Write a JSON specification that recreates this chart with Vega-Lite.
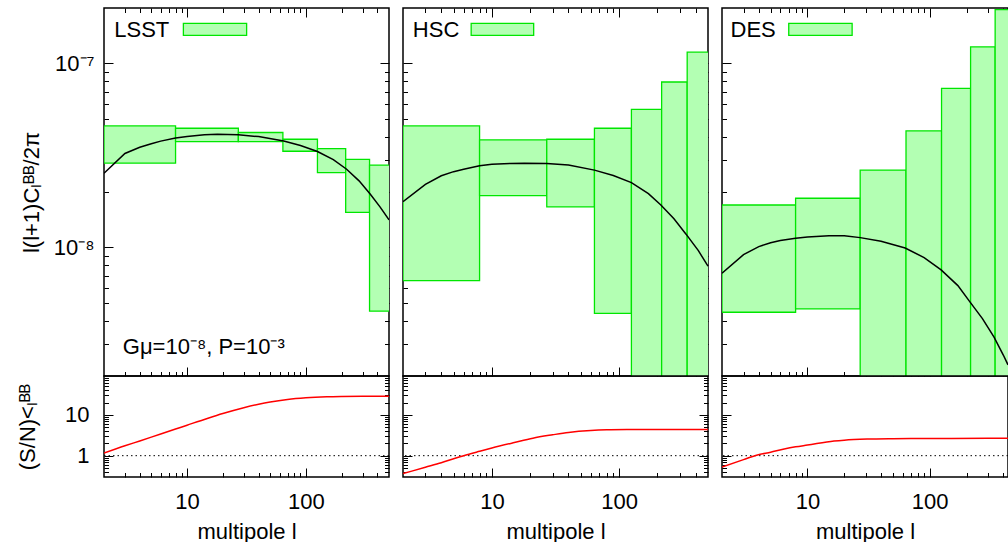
{
"$schema": "https://vega.github.io/schema/vega-lite/v6.json",
"padding": {"left": 15, "top": 6, "right": 0, "bottom": 0},
"datasets": {
"boxes": [
{"s":"LSST","l0":2,"l1":8,"lo":2.87e-8,"hi":4.57e-8},
{"s":"LSST","l0":8,"l1":27,"lo":3.76e-8,"hi":4.44e-8},
{"s":"LSST","l0":27,"l1":64,"lo":3.76e-8,"hi":4.21e-8},
{"s":"LSST","l0":64,"l1":125,"lo":3.33e-8,"hi":3.87e-8},
{"s":"LSST","l0":125,"l1":216,"lo":2.55e-8,"hi":3.44e-8},
{"s":"LSST","l0":216,"l1":343,"lo":1.55e-8,"hi":3.01e-8},
{"s":"LSST","l0":343,"l1":512,"lo":4.5e-9,"hi":2.8e-8},
{"s":"HSC","l0":2,"l1":8,"lo":6.6e-9,"hi":4.57e-8},
{"s":"HSC","l0":8,"l1":27,"lo":1.91e-8,"hi":3.84e-8},
{"s":"HSC","l0":27,"l1":64,"lo":1.66e-8,"hi":3.87e-8},
{"s":"HSC","l0":64,"l1":125,"lo":4.38e-9,"hi":4.44e-8},
{"s":"HSC","l0":125,"l1":216,"lo":1e-10,"hi":5.63e-8},
{"s":"HSC","l0":216,"l1":343,"lo":1e-10,"hi":7.92e-8},
{"s":"HSC","l0":343,"l1":512,"lo":1e-10,"hi":1.15e-7},
{"s":"DES","l0":2,"l1":8,"lo":4.44e-9,"hi":1.7e-8},
{"s":"DES","l0":8,"l1":27,"lo":4.63e-9,"hi":1.85e-8},
{"s":"DES","l0":27,"l1":64,"lo":1e-10,"hi":2.63e-8},
{"s":"DES","l0":64,"l1":125,"lo":1e-10,"hi":4.3e-8},
{"s":"DES","l0":125,"l1":216,"lo":1e-10,"hi":7.32e-8},
{"s":"DES","l0":216,"l1":343,"lo":1e-10,"hi":1.23e-7},
{"s":"DES","l0":343,"l1":512,"lo":1e-10,"hi":1.96e-7}
],
"curve": [
{"s":"LSST","l":2,"v":2.53e-8},{"s":"LSST","l":3,"v":3.24e-8},{"s":"LSST","l":4,"v":3.5e-8},{"s":"LSST","l":5,"v":3.66e-8},{"s":"LSST","l":6,"v":3.78e-8},{"s":"LSST","l":8,"v":3.93e-8},{"s":"LSST","l":10,"v":4.01e-8},{"s":"LSST","l":14,"v":4.09e-8},{"s":"LSST","l":18,"v":4.12e-8},{"s":"LSST","l":27,"v":4.09e-8},{"s":"LSST","l":40,"v":4.0e-8},{"s":"LSST","l":65,"v":3.79e-8},{"s":"LSST","l":90,"v":3.58e-8},{"s":"LSST","l":125,"v":3.32e-8},{"s":"LSST","l":170,"v":3.0e-8},{"s":"LSST","l":220,"v":2.66e-8},{"s":"LSST","l":280,"v":2.3e-8},{"s":"LSST","l":347,"v":1.95e-8},{"s":"LSST","l":420,"v":1.66e-8},{"s":"LSST","l":500,"v":1.41e-8},
{"s":"HSC","l":2,"v":1.77e-8},{"s":"HSC","l":3,"v":2.2e-8},{"s":"HSC","l":4,"v":2.45e-8},{"s":"HSC","l":5,"v":2.58e-8},{"s":"HSC","l":6,"v":2.66e-8},{"s":"HSC","l":8,"v":2.78e-8},{"s":"HSC","l":10,"v":2.83e-8},{"s":"HSC","l":14,"v":2.86e-8},{"s":"HSC","l":18,"v":2.87e-8},{"s":"HSC","l":27,"v":2.86e-8},{"s":"HSC","l":40,"v":2.8e-8},{"s":"HSC","l":64,"v":2.63e-8},{"s":"HSC","l":90,"v":2.46e-8},{"s":"HSC","l":125,"v":2.25e-8},{"s":"HSC","l":170,"v":1.96e-8},{"s":"HSC","l":213,"v":1.7e-8},{"s":"HSC","l":270,"v":1.43e-8},{"s":"HSC","l":336,"v":1.18e-8},{"s":"HSC","l":420,"v":9.6e-9},{"s":"HSC","l":500,"v":7.9e-9},
{"s":"DES","l":2,"v":7.23e-9},{"s":"DES","l":3,"v":9.13e-9},{"s":"DES","l":4,"v":1.01e-8},{"s":"DES","l":5,"v":1.06e-8},{"s":"DES","l":6,"v":1.09e-8},{"s":"DES","l":8,"v":1.12e-8},{"s":"DES","l":10,"v":1.14e-8},{"s":"DES","l":15,"v":1.157e-8},{"s":"DES","l":20,"v":1.155e-8},{"s":"DES","l":27,"v":1.13e-8},{"s":"DES","l":40,"v":1.08e-8},{"s":"DES","l":63,"v":9.92e-9},{"s":"DES","l":90,"v":8.8e-9},{"s":"DES","l":124,"v":7.54e-9},{"s":"DES","l":170,"v":6.2e-9},{"s":"DES","l":214,"v":5.04e-9},{"s":"DES","l":270,"v":4.1e-9},{"s":"DES","l":336,"v":3.25e-9},{"s":"DES","l":400,"v":2.6e-9},{"s":"DES","l":437,"v":2.3e-9}
],
"sn": [
{"s":"LSST","l":2,"r":1.16},{"s":"LSST","l":3,"r":1.75},{"s":"LSST","l":4,"r":2.3},{"s":"LSST","l":5,"r":2.85},{"s":"LSST","l":6,"r":3.4},{"s":"LSST","l":8,"r":4.5},{"s":"LSST","l":10,"r":5.6},{"s":"LSST","l":15,"r":8.3},{"s":"LSST","l":20,"r":10.8},{"s":"LSST","l":30,"r":15},{"s":"LSST","l":40,"r":18.3},{"s":"LSST","l":50,"r":20.8},{"s":"LSST","l":70,"r":24},{"s":"LSST","l":100,"r":26.3},{"s":"LSST","l":150,"r":27.8},{"s":"LSST","l":200,"r":28.3},{"s":"LSST","l":300,"r":28.6},{"s":"LSST","l":500,"r":28.7},
{"s":"HSC","l":2,"r":0.364},{"s":"HSC","l":3,"r":0.52},{"s":"HSC","l":4,"r":0.67},{"s":"HSC","l":5,"r":0.84},{"s":"HSC","l":6,"r":1.0},{"s":"HSC","l":8,"r":1.28},{"s":"HSC","l":10,"r":1.54},{"s":"HSC","l":15,"r":2.1},{"s":"HSC","l":21,"r":2.69},{"s":"HSC","l":30,"r":3.25},{"s":"HSC","l":40,"r":3.72},{"s":"HSC","l":60,"r":4.15},{"s":"HSC","l":80,"r":4.3},{"s":"HSC","l":126,"r":4.37},{"s":"HSC","l":200,"r":4.4},{"s":"HSC","l":500,"r":4.4},
{"s":"DES","l":2,"r":0.53},{"s":"DES","l":3,"r":0.8},{"s":"DES","l":3.9,"r":1.04},{"s":"DES","l":5,"r":1.22},{"s":"DES","l":6.45,"r":1.46},{"s":"DES","l":8,"r":1.65},{"s":"DES","l":10,"r":1.82},{"s":"DES","l":16.5,"r":2.28},{"s":"DES","l":20,"r":2.4},{"s":"DES","l":30.8,"r":2.55},{"s":"DES","l":50,"r":2.61},{"s":"DES","l":80,"r":2.63},{"s":"DES","l":150,"r":2.65},{"s":"DES","l":437,"r":2.66}
],
"leg": [
{"s":"LSST","name":"LSST","lx":2.44,"ly":1.39e-7,"a":9.31,"b":31.7,"c":1.42e-7,"d":1.648e-7},
{"s":"HSC","name":"HSC","lx":2.39,"ly":1.39e-7,"a":6.87,"b":21.3,"c":1.42e-7,"d":1.648e-7},
{"s":"DES","name":"DES","lx":2.35,"ly":1.39e-7,"a":7.03,"b":23.2,"c":1.42e-7,"d":1.648e-7}
],
"note": [{"t":"Gμ=10⁻⁸, P=10⁻³","l":2.88,"v":2.62e-9}],
"one": [{"r":1}]
},
"columns": 3,
"spacing": {"row": 0, "column": 14},
"bounds": "flush",
"align": "each",
"concat": [
{"width": 285, "height": 368,
 "layer": [
  {"data":{"name":"boxes"},"transform":[{"filter":"datum.s==='LSST'"}],
   "mark":{"type":"rect","fill":"#b3ffb3","stroke":"#00e600","strokeWidth":1.3,"clip":true},
   "encoding":{"x":{"field":"l0","type":"quantitative","scale":{"type":"log","domain":[2,500]},"axis":{"orient":"bottom","values":[10,100],"tickSize":-9,"labels":false,"title":null}},
    "x2":{"field":"l1"},
    "y":{"field":"lo","type":"quantitative","scale":{"type":"log","domain":[2e-9,2e-7]},"axis":{"orient":"left","values":[1e-8,1e-7],"tickSize":-9,"labelPadding":19,"labelExpr":"datum.value < 3e-8 ? '10⁻⁸' : '10⁻⁷'","title":"l(l+1)Cₗᴮᴮ/2π","titleX":-73,"titleBaseline":"middle","titleAngle":-90}},
    "y2":{"field":"hi"}}},
  {"data":{"name":"curve"},"transform":[{"filter":"datum.s==='LSST'"}],
   "mark":{"type":"line","color":"black","strokeWidth":1.5,"clip":true},
   "encoding":{"x":{"field":"l","type":"quantitative","scale":{"type":"log","domain":[2,500]},"axis":{"orient":"top","values":[10,100],"tickSize":-9,"labels":false,"title":null}},
    "y":{"field":"v","type":"quantitative","scale":{"type":"log","domain":[2e-9,2e-7]},"axis":{"orient":"right","values":[1e-8,1e-7],"tickSize":-9,"labels":false,"title":null}}}},
  {"data":{"name":"curve"},"transform":[{"filter":"datum.s==='LSST'"}],
   "mark":{"type":"line","opacity":0},
   "encoding":{"x":{"field":"l","type":"quantitative","scale":{"type":"log","domain":[2,500]},"axis":{"orient":"bottom","values":[3,4,5,6,7,8,9,20,30,40,50,60,70,80,90,200,300,400],"tickSize":-4.5,"labels":false,"title":null}},
    "y":{"field":"v","type":"quantitative","scale":{"type":"log","domain":[2e-9,2e-7]},"axis":{"orient":"left","values":[3e-9,4e-9,5e-9,6e-9,7e-9,8e-9,9e-9,2e-8,3e-8,4e-8,5e-8,6e-8,7e-8,8e-8,9e-8],"tickSize":-4.5,"labels":false,"title":null}}}},
  {"data":{"name":"curve"},"transform":[{"filter":"datum.s==='LSST'"}],
   "mark":{"type":"line","opacity":0},
   "encoding":{"x":{"field":"l","type":"quantitative","scale":{"type":"log","domain":[2,500]},"axis":{"orient":"top","values":[3,4,5,6,7,8,9,20,30,40,50,60,70,80,90,200,300,400],"tickSize":-4.5,"labels":false,"title":null}},
    "y":{"field":"v","type":"quantitative","scale":{"type":"log","domain":[2e-9,2e-7]},"axis":{"orient":"right","values":[3e-9,4e-9,5e-9,6e-9,7e-9,8e-9,9e-9,2e-8,3e-8,4e-8,5e-8,6e-8,7e-8,8e-8,9e-8],"tickSize":-4.5,"labels":false,"title":null}}}},
  {"data":{"name":"leg"},"transform":[{"filter":"datum.s==='LSST'"}],
   "mark":{"type":"text","align":"left","baseline":"alphabetic","fontSize":22,"color":"black"},
   "encoding":{"x":{"field":"lx","type":"quantitative","scale":{"type":"log","domain":[2,500]},"axis":null},"y":{"field":"ly","type":"quantitative","scale":{"type":"log","domain":[2e-9,2e-7]},"axis":null},"text":{"field":"name"}}},
  {"data":{"name":"leg"},"transform":[{"filter":"datum.s==='LSST'"}],
   "mark":{"type":"rect","fill":"#b3ffb3","stroke":"#00e600","strokeWidth":1.3},
   "encoding":{"x":{"field":"a","type":"quantitative","scale":{"type":"log","domain":[2,500]},"axis":null},"x2":{"field":"b"},"y":{"field":"c","type":"quantitative","scale":{"type":"log","domain":[2e-9,2e-7]},"axis":null},"y2":{"field":"d"}}},
  {"data":{"name":"note"},
   "mark":{"type":"text","align":"left","baseline":"alphabetic","fontSize":22,"color":"black"},
   "encoding":{"x":{"field":"l","type":"quantitative","scale":{"type":"log","domain":[2,500]},"axis":null},"y":{"field":"v","type":"quantitative","scale":{"type":"log","domain":[2e-9,2e-7]},"axis":null},"text":{"field":"t"}}}
 ],
 "resolve":{"axis":{"x":"independent","y":"independent"}}
},
{"width": 305, "height": 368,
 "layer": [
  {"data":{"name":"boxes"},"transform":[{"filter":"datum.s==='HSC'"}],
   "mark":{"type":"rect","fill":"#b3ffb3","stroke":"#00e600","strokeWidth":1.3,"clip":true},
   "encoding":{"x":{"field":"l0","type":"quantitative","scale":{"type":"log","domain":[2,500]},"axis":{"orient":"bottom","values":[10,100],"tickSize":-9,"labels":false,"title":null}},
    "x2":{"field":"l1"},
    "y":{"field":"lo","type":"quantitative","scale":{"type":"log","domain":[2e-9,2e-7]},"axis":{"orient":"left","values":[1e-8,1e-7],"tickSize":-9,"labels":false,"title":null}},
    "y2":{"field":"hi"}}},
  {"data":{"name":"curve"},"transform":[{"filter":"datum.s==='HSC'"}],
   "mark":{"type":"line","color":"black","strokeWidth":1.5,"clip":true},
   "encoding":{"x":{"field":"l","type":"quantitative","scale":{"type":"log","domain":[2,500]},"axis":{"orient":"top","values":[10,100],"tickSize":-9,"labels":false,"title":null}},
    "y":{"field":"v","type":"quantitative","scale":{"type":"log","domain":[2e-9,2e-7]},"axis":{"orient":"right","values":[1e-8,1e-7],"tickSize":-9,"labels":false,"title":null}}}},
  {"data":{"name":"curve"},"transform":[{"filter":"datum.s==='HSC'"}],
   "mark":{"type":"line","opacity":0},
   "encoding":{"x":{"field":"l","type":"quantitative","scale":{"type":"log","domain":[2,500]},"axis":{"orient":"bottom","values":[3,4,5,6,7,8,9,20,30,40,50,60,70,80,90,200,300,400],"tickSize":-4.5,"labels":false,"title":null}},
    "y":{"field":"v","type":"quantitative","scale":{"type":"log","domain":[2e-9,2e-7]},"axis":{"orient":"left","values":[3e-9,4e-9,5e-9,6e-9,7e-9,8e-9,9e-9,2e-8,3e-8,4e-8,5e-8,6e-8,7e-8,8e-8,9e-8],"tickSize":-4.5,"labels":false,"title":null}}}},
  {"data":{"name":"curve"},"transform":[{"filter":"datum.s==='HSC'"}],
   "mark":{"type":"line","opacity":0},
   "encoding":{"x":{"field":"l","type":"quantitative","scale":{"type":"log","domain":[2,500]},"axis":{"orient":"top","values":[3,4,5,6,7,8,9,20,30,40,50,60,70,80,90,200,300,400],"tickSize":-4.5,"labels":false,"title":null}},
    "y":{"field":"v","type":"quantitative","scale":{"type":"log","domain":[2e-9,2e-7]},"axis":{"orient":"right","values":[3e-9,4e-9,5e-9,6e-9,7e-9,8e-9,9e-9,2e-8,3e-8,4e-8,5e-8,6e-8,7e-8,8e-8,9e-8],"tickSize":-4.5,"labels":false,"title":null}}}},
  {"data":{"name":"leg"},"transform":[{"filter":"datum.s==='HSC'"}],
   "mark":{"type":"text","align":"left","baseline":"alphabetic","fontSize":22,"color":"black"},
   "encoding":{"x":{"field":"lx","type":"quantitative","scale":{"type":"log","domain":[2,500]},"axis":null},"y":{"field":"ly","type":"quantitative","scale":{"type":"log","domain":[2e-9,2e-7]},"axis":null},"text":{"field":"name"}}},
  {"data":{"name":"leg"},"transform":[{"filter":"datum.s==='HSC'"}],
   "mark":{"type":"rect","fill":"#b3ffb3","stroke":"#00e600","strokeWidth":1.3},
   "encoding":{"x":{"field":"a","type":"quantitative","scale":{"type":"log","domain":[2,500]},"axis":null},"x2":{"field":"b"},"y":{"field":"c","type":"quantitative","scale":{"type":"log","domain":[2e-9,2e-7]},"axis":null},"y2":{"field":"d"}}}
 ],
 "resolve":{"axis":{"x":"independent","y":"independent"}}
},
{"width": 286, "height": 368,
 "layer": [
  {"data":{"name":"boxes"},"transform":[{"filter":"datum.s==='DES'"}],
   "mark":{"type":"rect","fill":"#b3ffb3","stroke":"#00e600","strokeWidth":1.3,"clip":true},
   "encoding":{"x":{"field":"l0","type":"quantitative","scale":{"type":"log","domain":[2,437]},"axis":{"orient":"bottom","values":[10,100],"tickSize":-9,"labels":false,"title":null}},
    "x2":{"field":"l1"},
    "y":{"field":"lo","type":"quantitative","scale":{"type":"log","domain":[2e-9,2e-7]},"axis":{"orient":"left","values":[1e-8,1e-7],"tickSize":-9,"labels":false,"title":null}},
    "y2":{"field":"hi"}}},
  {"data":{"name":"curve"},"transform":[{"filter":"datum.s==='DES'"}],
   "mark":{"type":"line","color":"black","strokeWidth":1.5,"clip":true},
   "encoding":{"x":{"field":"l","type":"quantitative","scale":{"type":"log","domain":[2,437]},"axis":{"orient":"top","values":[10,100],"tickSize":-9,"labels":false,"title":null}},
    "y":{"field":"v","type":"quantitative","scale":{"type":"log","domain":[2e-9,2e-7]},"axis":null}}},
  {"data":{"name":"curve"},"transform":[{"filter":"datum.s==='DES'"}],
   "mark":{"type":"line","opacity":0},
   "encoding":{"x":{"field":"l","type":"quantitative","scale":{"type":"log","domain":[2,437]},"axis":{"orient":"bottom","values":[3,4,5,6,7,8,9,20,30,40,50,60,70,80,90,200,300,400],"tickSize":-4.5,"labels":false,"title":null}},
    "y":{"field":"v","type":"quantitative","scale":{"type":"log","domain":[2e-9,2e-7]},"axis":{"orient":"left","values":[3e-9,4e-9,5e-9,6e-9,7e-9,8e-9,9e-9,2e-8,3e-8,4e-8,5e-8,6e-8,7e-8,8e-8,9e-8],"tickSize":-4.5,"labels":false,"title":null}}}},
  {"data":{"name":"curve"},"transform":[{"filter":"datum.s==='DES'"}],
   "mark":{"type":"line","opacity":0},
   "encoding":{"x":{"field":"l","type":"quantitative","scale":{"type":"log","domain":[2,437]},"axis":{"orient":"top","values":[3,4,5,6,7,8,9,20,30,40,50,60,70,80,90,200,300,400],"tickSize":-4.5,"labels":false,"title":null}},
    "y":{"field":"v","type":"quantitative","scale":{"type":"log","domain":[2e-9,2e-7]},"axis":null}}},
  {"data":{"name":"leg"},"transform":[{"filter":"datum.s==='DES'"}],
   "mark":{"type":"text","align":"left","baseline":"alphabetic","fontSize":22,"color":"black"},
   "encoding":{"x":{"field":"lx","type":"quantitative","scale":{"type":"log","domain":[2,437]},"axis":null},"y":{"field":"ly","type":"quantitative","scale":{"type":"log","domain":[2e-9,2e-7]},"axis":null},"text":{"field":"name"}}},
  {"data":{"name":"leg"},"transform":[{"filter":"datum.s==='DES'"}],
   "mark":{"type":"rect","fill":"#b3ffb3","stroke":"#00e600","strokeWidth":1.3},
   "encoding":{"x":{"field":"a","type":"quantitative","scale":{"type":"log","domain":[2,437]},"axis":null},"x2":{"field":"b"},"y":{"field":"c","type":"quantitative","scale":{"type":"log","domain":[2e-9,2e-7]},"axis":null},"y2":{"field":"d"}}}
 ],
 "resolve":{"axis":{"x":"independent","y":"independent"}}
},
{"width": 285, "height": 101,
 "layer": [
  {"data":{"name":"one"},"mark":{"type":"rule","strokeDash":[1.5,3],"color":"black","strokeWidth":1},
   "encoding":{"y":{"field":"r","type":"quantitative","scale":{"type":"log","domain":[0.3,90]},"axis":null}}},
  {"data":{"name":"sn"},"transform":[{"filter":"datum.s==='LSST'"}],
   "mark":{"type":"line","color":"#ff0000","strokeWidth":1.5,"clip":true,"interpolate":"monotone"},
   "encoding":{"x":{"field":"l","type":"quantitative","scale":{"type":"log","domain":[2,500]},"axis":{"orient":"bottom","values":[10,100],"tickSize":-9,"labelPadding":23,"format":"d","title":"multipole l","titleY":54,"titleBaseline":"middle"}},
    "y":{"field":"r","type":"quantitative","scale":{"type":"log","domain":[0.3,90]},"axis":{"orient":"left","values":[1,10],"tickSize":-9,"labelPadding":24,"format":"d","title":"(S/N)<ₗᴮᴮ","titleX":-77,"titleBaseline":"middle","titleAngle":-90}}}},
  {"data":{"name":"sn"},"transform":[{"filter":"datum.s==='LSST'"}],
   "mark":{"type":"line","opacity":0},
   "encoding":{"x":{"field":"l","type":"quantitative","scale":{"type":"log","domain":[2,500]},"axis":{"orient":"bottom","values":[3,4,5,6,7,8,9,20,30,40,50,60,70,80,90,200,300,400],"tickSize":-4.5,"labels":false,"title":null}},
    "y":{"field":"r","type":"quantitative","scale":{"type":"log","domain":[0.3,90]},"axis":{"orient":"left","values":[0.4,0.5,0.6,0.7,0.8,0.9,2,3,4,5,6,7,8,9,20,30,40,50,60,70,80],"tickSize":-4.5,"labels":false,"title":null}}}},
  {"data":{"name":"sn"},"transform":[{"filter":"datum.s==='LSST'"}],
   "mark":{"type":"line","opacity":0},
   "encoding":{"x":{"field":"l","type":"quantitative","scale":{"type":"log","domain":[2,500]},"axis":null},
    "y":{"field":"r","type":"quantitative","scale":{"type":"log","domain":[0.3,90]},"axis":{"orient":"right","values":[1,10],"tickSize":-9,"labels":false,"title":null}}}},
  {"data":{"name":"sn"},"transform":[{"filter":"datum.s==='LSST'"}],
   "mark":{"type":"line","opacity":0},
   "encoding":{"x":{"field":"l","type":"quantitative","scale":{"type":"log","domain":[2,500]},"axis":null},
    "y":{"field":"r","type":"quantitative","scale":{"type":"log","domain":[0.3,90]},"axis":{"orient":"right","values":[0.4,0.5,0.6,0.7,0.8,0.9,2,3,4,5,6,7,8,9,20,30,40,50,60,70,80],"tickSize":-4.5,"labels":false,"title":null}}}}
 ],
 "resolve":{"axis":{"x":"independent","y":"independent"}}
},
{"width": 305, "height": 101,
 "layer": [
  {"data":{"name":"one"},"mark":{"type":"rule","strokeDash":[1.5,3],"color":"black","strokeWidth":1},
   "encoding":{"y":{"field":"r","type":"quantitative","scale":{"type":"log","domain":[0.3,90]},"axis":null}}},
  {"data":{"name":"sn"},"transform":[{"filter":"datum.s==='HSC'"}],
   "mark":{"type":"line","color":"#ff0000","strokeWidth":1.5,"clip":true,"interpolate":"monotone"},
   "encoding":{"x":{"field":"l","type":"quantitative","scale":{"type":"log","domain":[2,500]},"axis":{"orient":"bottom","values":[10,100],"tickSize":-9,"labelPadding":23,"format":"d","title":"multipole l","titleY":54,"titleBaseline":"middle"}},
    "y":{"field":"r","type":"quantitative","scale":{"type":"log","domain":[0.3,90]},"axis":{"orient":"left","values":[1,10],"tickSize":-9,"labels":false,"title":null}}}},
  {"data":{"name":"sn"},"transform":[{"filter":"datum.s==='HSC'"}],
   "mark":{"type":"line","opacity":0},
   "encoding":{"x":{"field":"l","type":"quantitative","scale":{"type":"log","domain":[2,500]},"axis":{"orient":"bottom","values":[3,4,5,6,7,8,9,20,30,40,50,60,70,80,90,200,300,400],"tickSize":-4.5,"labels":false,"title":null}},
    "y":{"field":"r","type":"quantitative","scale":{"type":"log","domain":[0.3,90]},"axis":{"orient":"left","values":[0.4,0.5,0.6,0.7,0.8,0.9,2,3,4,5,6,7,8,9,20,30,40,50,60,70,80],"tickSize":-4.5,"labels":false,"title":null}}}},
  {"data":{"name":"sn"},"transform":[{"filter":"datum.s==='HSC'"}],
   "mark":{"type":"line","opacity":0},
   "encoding":{"x":{"field":"l","type":"quantitative","scale":{"type":"log","domain":[2,500]},"axis":null},
    "y":{"field":"r","type":"quantitative","scale":{"type":"log","domain":[0.3,90]},"axis":{"orient":"right","values":[1,10],"tickSize":-9,"labels":false,"title":null}}}},
  {"data":{"name":"sn"},"transform":[{"filter":"datum.s==='HSC'"}],
   "mark":{"type":"line","opacity":0},
   "encoding":{"x":{"field":"l","type":"quantitative","scale":{"type":"log","domain":[2,500]},"axis":null},
    "y":{"field":"r","type":"quantitative","scale":{"type":"log","domain":[0.3,90]},"axis":{"orient":"right","values":[0.4,0.5,0.6,0.7,0.8,0.9,2,3,4,5,6,7,8,9,20,30,40,50,60,70,80],"tickSize":-4.5,"labels":false,"title":null}}}}
 ],
 "resolve":{"axis":{"x":"independent","y":"independent"}}
},
{"width": 286, "height": 101,
 "layer": [
  {"data":{"name":"one"},"mark":{"type":"rule","strokeDash":[1.5,3],"color":"black","strokeWidth":1},
   "encoding":{"y":{"field":"r","type":"quantitative","scale":{"type":"log","domain":[0.3,90]},"axis":null}}},
  {"data":{"name":"sn"},"transform":[{"filter":"datum.s==='DES'"}],
   "mark":{"type":"line","color":"#ff0000","strokeWidth":1.5,"clip":true,"interpolate":"monotone"},
   "encoding":{"x":{"field":"l","type":"quantitative","scale":{"type":"log","domain":[2,437]},"axis":{"orient":"bottom","values":[10,100],"tickSize":-9,"labelPadding":23,"format":"d","title":"multipole l","titleY":54,"titleBaseline":"middle"}},
    "y":{"field":"r","type":"quantitative","scale":{"type":"log","domain":[0.3,90]},"axis":{"orient":"left","values":[1,10],"tickSize":-9,"labels":false,"title":null}}}},
  {"data":{"name":"sn"},"transform":[{"filter":"datum.s==='DES'"}],
   "mark":{"type":"line","opacity":0},
   "encoding":{"x":{"field":"l","type":"quantitative","scale":{"type":"log","domain":[2,437]},"axis":{"orient":"bottom","values":[3,4,5,6,7,8,9,20,30,40,50,60,70,80,90,200,300,400],"tickSize":-4.5,"labels":false,"title":null}},
    "y":{"field":"r","type":"quantitative","scale":{"type":"log","domain":[0.3,90]},"axis":{"orient":"left","values":[0.4,0.5,0.6,0.7,0.8,0.9,2,3,4,5,6,7,8,9,20,30,40,50,60,70,80],"tickSize":-4.5,"labels":false,"title":null}}}}
 ],
 "resolve":{"axis":{"x":"independent","y":"independent"}}
}
],
"config": {
 "font": "Liberation Sans",
 "view": {"stroke": "black", "strokeWidth": 1.5},
 "axis": {"domain": false, "grid": false, "tickColor": "black", "tickWidth": 1, "labelColor": "black", "labelFontSize": 22, "labelFont": "Liberation Sans", "titleFont": "Liberation Sans", "titleFontSize": 22, "titleFontWeight": "normal", "titleColor": "black", "labelFlush": false, "labelOverlap": false}
}
}
